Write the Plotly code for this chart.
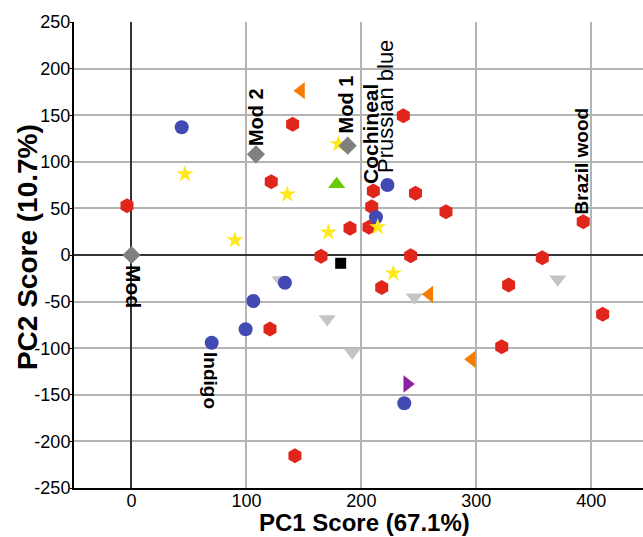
import plotly.graph_objects as go

# ---- data (PC1, PC2 scores) ----
red_x = [-3.9, 140.2, 121.6, 164.9, 236.5, 210.4, 209.0, 206.6, 190.1, 247.1, 273.6, 242.9, 357.4, 393.0, 217.7, 328.1, 409.9, 322.1, 120.5, 142.2]
red_y = [52.9, 140.2, 78.6, -1.4, 149.5, 68.7, 51.8, 29.7, 28.6, 66.2, 46.5, -0.8, -2.9, 35.7, -34.9, -32.2, -63.6, -98.4, -79.4, -215.3]

blue_x = [43.7, 222.7, 212.7, 133.5, 106.0, 99.3, 69.8, 237.3]
blue_y = [137.0, 75.1, 40.5, -29.7, -49.4, -79.7, -94.1, -159.1]

star_x = [46.5, 135.5, 90.0, 171.2, 179.9, 214.2, 227.8]
star_y = [86.9, 65.1, 16.1, 24.4, 119.1, 30.0, -19.6]

mod_x = [0.0, 108.3, 188.1]
mod_y = [0.0, 108.0, 117.3]

orange_x = [147.5, 259.1, 296.0]
orange_y = [176.3, -42.2, -111.9]

green_x = [178.5]
green_y = [75.9]

black_x = [182.0]
black_y = [-8.9]

purple_x = [239.9]
purple_y = [-138.4]

lgrey_x = [129.2, 170.3, 192.1, 246.0, 370.8]
lgrey_y = [-26.8, -68.7, -104.4, -45.4, -26.1]

# labels
label_text = ["Mod 2", "Mod 1", "Cochineal", "Prussian blue", "Brazil wood", "Mod", "Indigo"]
label_x = [107.9, 186.2, 207.5, 221.4, 391.5, 1.7, 68.7]
label_y = [147.5, 161.0, 129.8, 159.9, 100.9, -33.8, -134.7]
label_angle = [-90, -90, -90, -90, -90, 90, 90]
label_bold = [True, True, True, False, True, True, True]
label_size = [20, 20, 21, 22, 19, 21, 19]

x_title = "PC1 Score (67.1%)"
y_title = "PC2 Score (10.7%)"

x_ticks = [0, 100, 200, 300, 400]
y_ticks = [-250, -200, -150, -100, -50, 0, 50, 100, 150, 200, 250]

fig = go.Figure()

def add(xs, ys, symbol, color, size):
    fig.add_trace(go.Scatter(x=xs, y=ys, mode="markers",
                             marker=dict(symbol=symbol, color=color, size=size,
                                         line=dict(width=0)),
                             showlegend=False, hoverinfo="skip"))

add(lgrey_x, lgrey_y, "triangle-down", "#C4C4C4", 15)
add(red_x, red_y, "hexagon", "#E0261A", 15)
add(blue_x, blue_y, "circle", "#4149B2", 14)
add(star_x, star_y, "star", "#FFE81C", 13)
add(mod_x, mod_y, "diamond", "#808080", 14)
add(orange_x, orange_y, "triangle-left", "#F57C00", 15)
add(green_x, green_y, "triangle-up", "#66CC00", 15)
add(black_x, black_y, "square", "#000000", 11)
add(purple_x, purple_y, "triangle-right", "#8E1FA0", 15)

for t, x, y, a, b, s in zip(label_text, label_x, label_y, label_angle, label_bold, label_size):
    fig.add_annotation(x=x, y=y, text=(f"<b>{t}</b>" if b else t), textangle=a,
                       showarrow=False, xanchor="center", yanchor="middle",
                       font=dict(family="Liberation Sans, Arial", size=s, color="#000"))

# axis titles as annotations (placed in the margins)
fig.add_annotation(xref="paper", yref="paper", x=0.511, y=0, yshift=-34,
                   text=f"<b>{x_title}</b>", showarrow=False,
                   xanchor="center", yanchor="middle", borderpad=0, borderwidth=0,
                   font=dict(family="Liberation Sans, Arial", size=24, color="#000"))
fig.add_annotation(xref="paper", yref="paper", x=0, xshift=-47, y=0.517,
                   text=f"<b>{y_title}</b>", showarrow=False, textangle=-90,
                   xanchor="center", yanchor="middle", borderpad=0, borderwidth=0,
                   font=dict(family="Liberation Sans, Arial", size=28, color="#000"))

fig.update_layout(
    width=643, height=537,
    margin=dict(l=74, r=0, t=22, b=49),
    plot_bgcolor="white", paper_bgcolor="white",
    font=dict(family="Liberation Sans, Arial", color="#000"),
)
fig.update_xaxes(range=[-50, 445], tickvals=x_ticks, ticktext=[str(v) for v in x_ticks],
                 showgrid=True, gridcolor="#B4B4B4", gridwidth=1.5,
                 zeroline=True, zerolinecolor="#333333", zerolinewidth=1.5,
                 showline=True, linecolor="#000", linewidth=2,
                 ticks="", tickfont=dict(size=18), ticklabelstandoff=-5,
                 automargin=False)
fig.update_yaxes(range=[-250, 250], tickvals=y_ticks, ticktext=[str(v) for v in y_ticks],
                 showgrid=True, gridcolor="#B4B4B4", gridwidth=1.5,
                 zeroline=True, zerolinecolor="#333333", zerolinewidth=1.5,
                 showline=True, linecolor="#000", linewidth=2,
                 ticks="outside", ticklen=2, tickcolor="#000", tickfont=dict(size=18),
                 ticklabelstandoff=-4, automargin=False)

fig.write_html("out.html")
